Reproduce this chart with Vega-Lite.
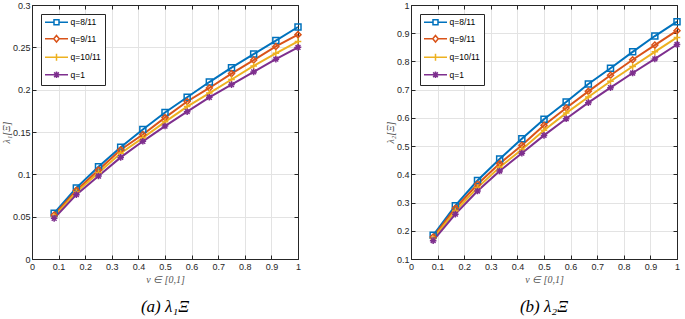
{
  "$schema": "https://vega.github.io/schema/vega-lite/v6.json",
  "background": "white",
  "padding": {"left": 0, "top": 0, "right": 5, "bottom": 0},
  "spacing": 79,
  "datasets": {
    "l1": [
      {"v": 0.0833, "q": "q=8/11", "val": 0.054}, {"v": 0.1667, "q": "q=8/11", "val": 0.084}, {"v": 0.25, "q": "q=8/11", "val": 0.109}, {"v": 0.3333, "q": "q=8/11", "val": 0.132}, {"v": 0.4167, "q": "q=8/11", "val": 0.153}, {"v": 0.5, "q": "q=8/11", "val": 0.173}, {"v": 0.5833, "q": "q=8/11", "val": 0.191}, {"v": 0.6667, "q": "q=8/11", "val": 0.209}, {"v": 0.75, "q": "q=8/11", "val": 0.226}, {"v": 0.8333, "q": "q=8/11", "val": 0.242}, {"v": 0.9167, "q": "q=8/11", "val": 0.258}, {"v": 1, "q": "q=8/11", "val": 0.274},
      {"v": 0.0833, "q": "q=9/11", "val": 0.052}, {"v": 0.1667, "q": "q=9/11", "val": 0.081}, {"v": 0.25, "q": "q=9/11", "val": 0.105}, {"v": 0.3333, "q": "q=9/11", "val": 0.129}, {"v": 0.4167, "q": "q=9/11", "val": 0.147}, {"v": 0.5, "q": "q=9/11", "val": 0.167}, {"v": 0.5833, "q": "q=9/11", "val": 0.186}, {"v": 0.6667, "q": "q=9/11", "val": 0.202}, {"v": 0.75, "q": "q=9/11", "val": 0.219}, {"v": 0.8333, "q": "q=9/11", "val": 0.235}, {"v": 0.9167, "q": "q=9/11", "val": 0.251}, {"v": 1, "q": "q=9/11", "val": 0.265},
      {"v": 0.0833, "q": "q=10/11", "val": 0.050}, {"v": 0.1667, "q": "q=10/11", "val": 0.079}, {"v": 0.25, "q": "q=10/11", "val": 0.102}, {"v": 0.3333, "q": "q=10/11", "val": 0.125}, {"v": 0.4167, "q": "q=10/11", "val": 0.143}, {"v": 0.5, "q": "q=10/11", "val": 0.162}, {"v": 0.5833, "q": "q=10/11", "val": 0.180}, {"v": 0.6667, "q": "q=10/11", "val": 0.196}, {"v": 0.75, "q": "q=10/11", "val": 0.212}, {"v": 0.8333, "q": "q=10/11", "val": 0.228}, {"v": 0.9167, "q": "q=10/11", "val": 0.243}, {"v": 1, "q": "q=10/11", "val": 0.257},
      {"v": 0.0833, "q": "q=1", "val": 0.048}, {"v": 0.1667, "q": "q=1", "val": 0.076}, {"v": 0.25, "q": "q=1", "val": 0.098}, {"v": 0.3333, "q": "q=1", "val": 0.120}, {"v": 0.4167, "q": "q=1", "val": 0.139}, {"v": 0.5, "q": "q=1", "val": 0.157}, {"v": 0.5833, "q": "q=1", "val": 0.174}, {"v": 0.6667, "q": "q=1", "val": 0.191}, {"v": 0.75, "q": "q=1", "val": 0.206}, {"v": 0.8333, "q": "q=1", "val": 0.221}, {"v": 0.9167, "q": "q=1", "val": 0.236}, {"v": 1, "q": "q=1", "val": 0.250}
    ],
    "l2": [
      {"v": 0.0833, "q": "q=8/11", "val": 0.184}, {"v": 0.1667, "q": "q=8/11", "val": 0.289}, {"v": 0.25, "q": "q=8/11", "val": 0.378}, {"v": 0.3333, "q": "q=8/11", "val": 0.454}, {"v": 0.4167, "q": "q=8/11", "val": 0.526}, {"v": 0.5, "q": "q=8/11", "val": 0.595}, {"v": 0.5833, "q": "q=8/11", "val": 0.656}, {"v": 0.6667, "q": "q=8/11", "val": 0.720}, {"v": 0.75, "q": "q=8/11", "val": 0.776}, {"v": 0.8333, "q": "q=8/11", "val": 0.834}, {"v": 0.9167, "q": "q=8/11", "val": 0.890}, {"v": 1, "q": "q=8/11", "val": 0.941},
      {"v": 0.0833, "q": "q=9/11", "val": 0.178}, {"v": 0.1667, "q": "q=9/11", "val": 0.280}, {"v": 0.25, "q": "q=9/11", "val": 0.365}, {"v": 0.3333, "q": "q=9/11", "val": 0.438}, {"v": 0.4167, "q": "q=9/11", "val": 0.503}, {"v": 0.5, "q": "q=9/11", "val": 0.574}, {"v": 0.5833, "q": "q=9/11", "val": 0.635}, {"v": 0.6667, "q": "q=9/11", "val": 0.694}, {"v": 0.75, "q": "q=9/11", "val": 0.751}, {"v": 0.8333, "q": "q=9/11", "val": 0.806}, {"v": 0.9167, "q": "q=9/11", "val": 0.858}, {"v": 1, "q": "q=9/11", "val": 0.909},
      {"v": 0.0833, "q": "q=10/11", "val": 0.172}, {"v": 0.1667, "q": "q=10/11", "val": 0.270}, {"v": 0.25, "q": "q=10/11", "val": 0.353}, {"v": 0.3333, "q": "q=10/11", "val": 0.425}, {"v": 0.4167, "q": "q=10/11", "val": 0.488}, {"v": 0.5, "q": "q=10/11", "val": 0.556}, {"v": 0.5833, "q": "q=10/11", "val": 0.617}, {"v": 0.6667, "q": "q=10/11", "val": 0.674}, {"v": 0.75, "q": "q=10/11", "val": 0.730}, {"v": 0.8333, "q": "q=10/11", "val": 0.782}, {"v": 0.9167, "q": "q=10/11", "val": 0.834}, {"v": 1, "q": "q=10/11", "val": 0.885},
      {"v": 0.0833, "q": "q=1", "val": 0.165}, {"v": 0.1667, "q": "q=1", "val": 0.259}, {"v": 0.25, "q": "q=1", "val": 0.341}, {"v": 0.3333, "q": "q=1", "val": 0.412}, {"v": 0.4167, "q": "q=1", "val": 0.475}, {"v": 0.5, "q": "q=1", "val": 0.538}, {"v": 0.5833, "q": "q=1", "val": 0.597}, {"v": 0.6667, "q": "q=1", "val": 0.654}, {"v": 0.75, "q": "q=1", "val": 0.707}, {"v": 0.8333, "q": "q=1", "val": 0.759}, {"v": 0.9167, "q": "q=1", "val": 0.809}, {"v": 1, "q": "q=1", "val": 0.860}
    ]
  },
  "hconcat": [
    {
      "width": 266,
      "height": 254,
      "data": {"name": "l1"},
      "title": {"text": "(a) λ₁Ξ", "orient": "bottom", "font": "Liberation Serif", "fontStyle": "italic", "fontWeight": "normal", "fontSize": 17, "color": "#000000", "offset": 15},
      "layer": [
        {
          "mark": {"type": "line", "strokeWidth": 2},
          "encoding": {
            "x": {"field": "v", "type": "quantitative", "scale": {"domain": [0, 1]}, "axis": {"title": "v ∈ [0,1]", "values": [0,0.1,0.2,0.3,0.4,0.5,0.6,0.7,0.8,0.9,1]}},
            "y": {"field": "val", "type": "quantitative", "scale": {"domain": [0, 0.3]}, "axis": {"title": "λ₁[Ξ]", "values": [0,0.05,0.1,0.15,0.2,0.25,0.3]}},
            "color": {"field": "q", "type": "nominal", "sort": ["q=8/11","q=9/11","q=10/11","q=1"], "scale": {"domain": ["q=8/11","q=9/11","q=10/11","q=1"], "range": ["#0072BD","#D95319","#EDB120","#7E2F8E"]},
              "legend": {"symbolType": "M-4.6,0H4.6", "encode": {"symbols": {"update": {"x": {"value": 11.5}, "fill": {"value": "transparent"}, "shape": {"signal": "datum.value === 'q=8/11' ? 'M-4.6,0H-1M1,0H4.6M-1,-1H1V1H-1Z' : datum.value === 'q=9/11' ? 'M-4.6,0H-1.1M1.1,0H4.6M0,-1.3L1.1,0L0,1.3L-1.1,0Z' : datum.value === 'q=10/11' ? 'M-4.6,0H4.6M0,-1.4V1.4' : 'M-4.6,0H4.6M0,-1.3V1.3M-0.95,-0.95L0.95,0.95M-0.95,0.95L0.95,-0.95'"}}}}}}
          }
        },
        {
          "mark": {"type": "point", "filled": false, "strokeWidth": 1.5, "size": 36, "opacity": 1},
          "encoding": {
            "x": {"field": "v", "type": "quantitative", "axis": {"orient": "top", "labels": false, "title": null, "grid": false, "values": [0,0.1,0.2,0.3,0.4,0.5,0.6,0.7,0.8,0.9,1]}},
            "y": {"field": "val", "type": "quantitative", "axis": {"orient": "right", "labels": false, "title": null, "grid": false, "values": [0,0.05,0.1,0.15,0.2,0.25,0.3]}},
            "color": {"field": "q", "type": "nominal", "sort": ["q=8/11","q=9/11","q=10/11","q=1"], "scale": {"domain": ["q=8/11","q=9/11","q=10/11","q=1"], "range": ["#0072BD","#D95319","#EDB120","#7E2F8E"]}, "legend": null},
            "shape": {"field": "q", "type": "nominal", "sort": ["q=8/11","q=9/11","q=10/11","q=1"], "scale": {"domain": ["q=8/11","q=9/11","q=10/11","q=1"], "range": ["square","diamond","M-1.1,0H1.1M0,-1.1V1.1","M-1.1,0H1.1M0,-1.1V1.1M-0.8,-0.8L0.8,0.8M-0.8,0.8L0.8,-0.8"]}, "legend": null}
          }
        }
      ],
      "resolve": {"axis": {"x": "independent", "y": "independent"}, "legend": {"color": "independent", "shape": "independent"}}
    },
    {
      "width": 266,
      "height": 254,
      "data": {"name": "l2"},
      "title": {"text": "(b) λ₂Ξ", "orient": "bottom", "font": "Liberation Serif", "fontStyle": "italic", "fontWeight": "normal", "fontSize": 17, "color": "#000000", "offset": 15},
      "layer": [
        {
          "mark": {"type": "line", "strokeWidth": 2},
          "encoding": {
            "x": {"field": "v", "type": "quantitative", "scale": {"domain": [0, 1]}, "axis": {"title": "v ∈ [0,1]", "values": [0,0.1,0.2,0.3,0.4,0.5,0.6,0.7,0.8,0.9,1]}},
            "y": {"field": "val", "type": "quantitative", "scale": {"domain": [0.1, 1]}, "axis": {"title": "λ₂[Ξ]", "values": [0.1,0.2,0.3,0.4,0.5,0.6,0.7,0.8,0.9,1]}},
            "color": {"field": "q", "type": "nominal", "sort": ["q=8/11","q=9/11","q=10/11","q=1"], "scale": {"domain": ["q=8/11","q=9/11","q=10/11","q=1"], "range": ["#0072BD","#D95319","#EDB120","#7E2F8E"]},
              "legend": {"symbolType": "M-4.6,0H4.6", "encode": {"symbols": {"update": {"x": {"value": 11.5}, "fill": {"value": "transparent"}, "shape": {"signal": "datum.value === 'q=8/11' ? 'M-4.6,0H-1M1,0H4.6M-1,-1H1V1H-1Z' : datum.value === 'q=9/11' ? 'M-4.6,0H-1.1M1.1,0H4.6M0,-1.3L1.1,0L0,1.3L-1.1,0Z' : datum.value === 'q=10/11' ? 'M-4.6,0H4.6M0,-1.4V1.4' : 'M-4.6,0H4.6M0,-1.3V1.3M-0.95,-0.95L0.95,0.95M-0.95,0.95L0.95,-0.95'"}}}}}}
          }
        },
        {
          "mark": {"type": "point", "filled": false, "strokeWidth": 1.5, "size": 36, "opacity": 1},
          "encoding": {
            "x": {"field": "v", "type": "quantitative", "axis": {"orient": "top", "labels": false, "title": null, "grid": false, "values": [0,0.1,0.2,0.3,0.4,0.5,0.6,0.7,0.8,0.9,1]}},
            "y": {"field": "val", "type": "quantitative", "axis": {"orient": "right", "labels": false, "title": null, "grid": false, "values": [0.1,0.2,0.3,0.4,0.5,0.6,0.7,0.8,0.9,1]}},
            "color": {"field": "q", "type": "nominal", "sort": ["q=8/11","q=9/11","q=10/11","q=1"], "scale": {"domain": ["q=8/11","q=9/11","q=10/11","q=1"], "range": ["#0072BD","#D95319","#EDB120","#7E2F8E"]}, "legend": null},
            "shape": {"field": "q", "type": "nominal", "sort": ["q=8/11","q=9/11","q=10/11","q=1"], "scale": {"domain": ["q=8/11","q=9/11","q=10/11","q=1"], "range": ["square","diamond","M-1.1,0H1.1M0,-1.1V1.1","M-1.1,0H1.1M0,-1.1V1.1M-0.8,-0.8L0.8,0.8M-0.8,0.8L0.8,-0.8"]}, "legend": null}
          }
        }
      ],
      "resolve": {"axis": {"x": "independent", "y": "independent"}, "legend": {"color": "independent", "shape": "independent"}}
    }
  ],
  "resolve": {"scale": {"color": "independent", "shape": "independent", "y": "independent", "x": "independent"}, "legend": {"color": "independent", "shape": "independent"}},
  "config": {
    "view": {"stroke": "#262626", "strokeWidth": 1},
    "axis": {
      "domainColor": "#262626",
      "tickColor": "#262626",
      "tickSize": -4,
      "labelPadding": 6,
      "labelFont": "Liberation Sans",
      "labelFontSize": 9,
      "labelColor": "#262626",
      "format": "~g",
      "gridColor": "#e3e3e3",
      "titleFont": "Liberation Serif",
      "titleFontStyle": "italic",
      "titleFontWeight": "normal",
      "titleFontSize": 10,
      "titleColor": "#555555",
      "labelFlush": false
    },
    "axisX": {"titlePadding": 3, "labelPadding": 7},
    "axisY": {"titlePadding": 1},
    "legend": {
      "title": null,
      "orient": "top-left",
      "offset": 9,
      "strokeColor": "#262626",
      "fillColor": "white",
      "padding": 4,
      "labelFont": "Liberation Sans",
      "labelFontSize": 8.5,
      "labelColor": "#000000",
      "rowPadding": 4.5,
      "symbolSize": 25,
      "symbolStrokeWidth": 1.5,
      "labelOffset": 17
    }
  }
}
